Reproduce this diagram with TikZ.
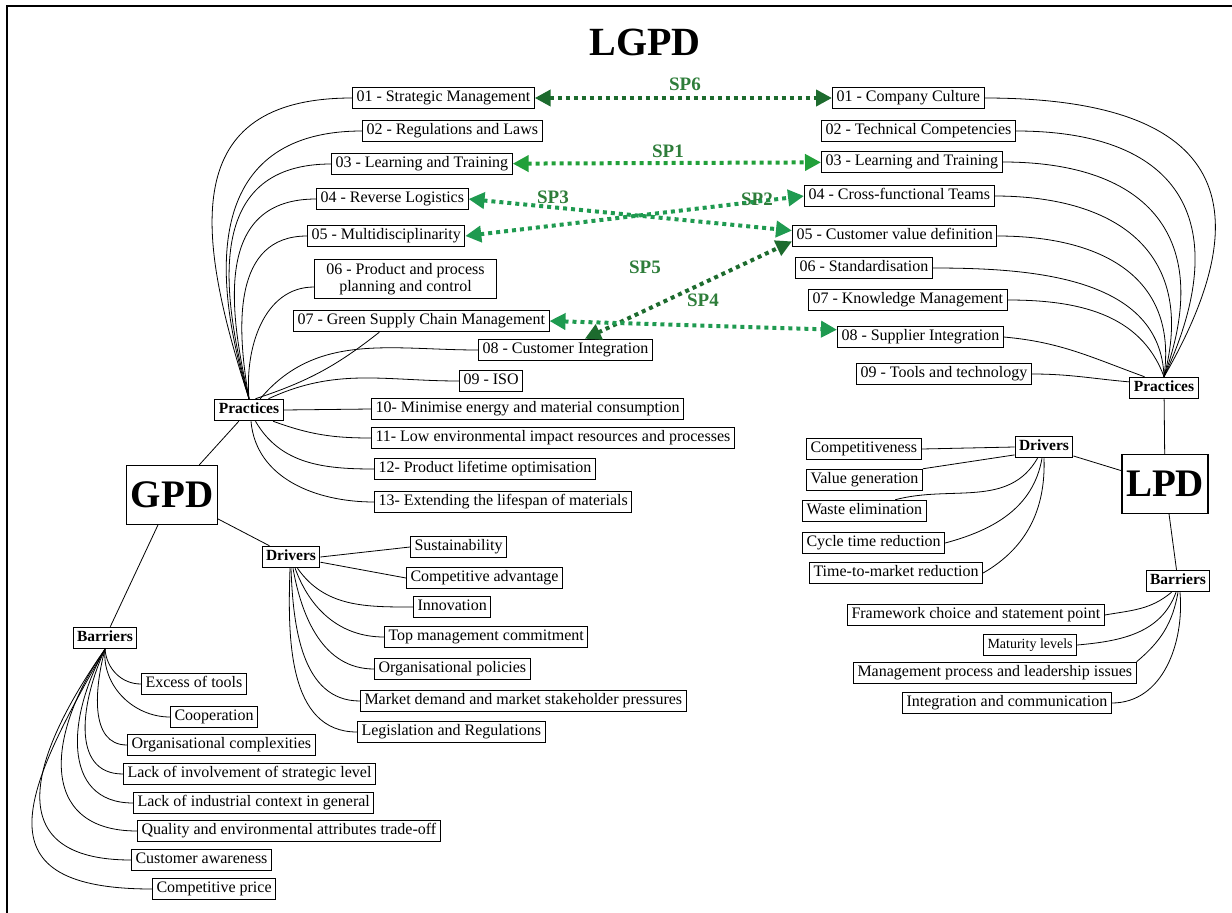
\documentclass[tikz,border=0pt]{standalone}
\usepackage{fontspec}
\setmainfont{Liberation Serif}
\usetikzlibrary{arrows.meta}
\definecolor{spdark}{HTML}{1D6B2E}
\definecolor{spmid}{HTML}{1F9A50}
\definecolor{splight}{HTML}{22A03A}
\definecolor{splabel}{HTML}{2E7D3A}

\begin{document}
\begin{tikzpicture}[x=1pt, y=-1pt,
    box/.style={draw, line width=1pt, font=\fontsize{16}{17.5}\selectfont, inner xsep=4pt, inner ysep=3.5pt, text height=11pt, text depth=3.5pt},
    item/.style={box, anchor=west},
    group/.style={box, font=\fontsize{15.5}{17}\selectfont\bfseries},
    root/.style={draw, line width=1.2pt, font=\fontsize{39}{42}\selectfont\bfseries, inner xsep=4pt, minimum height=59pt},
    link/.style={line width=0.8pt},
    sp/.style={line width=4pt, dash pattern=on 4pt off 4pt, {Triangle[length=16pt,width=16pt]}-{Triangle[length=16pt,width=16pt]}},
    splab/.style={text=splabel, font=\fontsize{19}{21}\selectfont\bfseries}
  ]
    \useasboundingbox (0,0) rectangle (1232,913);
    \draw[line width=1.2pt] (7,913) -- (7,6) -- (1232,6);

    \node[font=\fontsize{40}{44}\selectfont\bfseries] (title) at (645,42) {LGPD};

    % green product development
    \node[root] (gpd) at (172,495) {GPD};
    \node[group] (gprac) at (249,410) {Practices};
    \node[group] (gdrv) at (291,557) {Drivers};
    \node[group] (gbar) at (105,638) {Barriers};
    \draw[link] (gpd) -- (gprac);
    \draw[link] (gpd) -- (gdrv);
    \draw[link] (gpd) -- (gbar);

    \foreach \n/\x/\y/\t in {1/352/98/{01 - Strategic Management}, 2/362/131/{02 - Regulations and Laws},
        3/331/164/{03 - Learning and Training}, 4/316/199/{04 - Reverse Logistics},
        5/307/236/{05 - Multidisciplinarity}, 7/293/321/{07 - Green Supply Chain Management},
        8/478/350/{08 - Customer Integration}, 9/459/381/{09 - ISO},
        10/371/409/{10- Minimise energy and material consumption},
        11/371/438/{11- Low environmental impact resources and processes},
        12/374/469/{12- Product lifetime optimisation}, 13/374/502/{13- Extending the lifespan of materials}}
      \node[item] (gp\n) at (\x,\y) {\t};
    \node[item, align=center, text height=, text depth=, minimum width=182pt] (gp6) at (314,279) {06 - Product and process\\planning and control};

    \foreach \n/\o/\l in {1/108/1.4, 2/107/1.3, 3/105/1.25, 4/103/1.2, 5/100/1.1}
      \draw[link] (gprac.north) to[out=\o, in=180, looseness=\l] (gp\n.west);
    \draw[link] (gprac.north) to[out=95, in=180] (gp6.185);
    \draw[link] (gprac.60) to[bend right=10] (gp7.195);
    \draw[link] (gprac.45) to[out=50, in=180] (gp8.west);
    \draw[link] (gprac.30) to[out=25, in=180] (gp9.west);
    \draw[link] (gprac.east) -- (gp10.west);
    \draw[link] (gprac.-25) to[out=-20, in=180] (gp11.west);
    \draw[link] (gprac.-60) to[out=-60, in=180] (gp12.west);
    \draw[link] (gprac.-80) to[out=-85, in=180] (gp13.west);

    \foreach \n/\x/\y/\t in {1/410/547/Sustainability, 2/406/578/{Competitive advantage}, 3/413/607/Innovation,
        4/384/637/{Top management commitment}, 5/374/669/{Organisational policies},
        6/360/701/{Market demand and market stakeholder pressures}, 7/357/732/{Legislation and Regulations}}
      \node[item] (gd\n) at (\x,\y) {\t};
    \draw[link] (gdrv.east) -- (gd1.west);
    \draw[link] (gdrv.-10) -- (gd2.west);
    \foreach \n/\a/\o in {3/-60/-55, 4/-70/-70, 5/-80/-80, 6/-90/-88, 7/-95/-92}
      \draw[link] (gdrv.\a) to[out=\o, in=180] (gd\n.west);

    \foreach \n/\x/\y/\t in {1/141/684/{Excess of tools}, 2/170/717/Cooperation, 3/127/745/{Organisational complexities},
        4/123/774/{Lack of involvement of strategic level}, 5/133/803/{Lack of industrial context in general},
        6/137/831/{Quality and environmental attributes trade-off}, 7/131/860/{Customer awareness},
        8/152/889/{Competitive price}}
      \node[item] (gb\n) at (\x,\y) {\t};
    \foreach \n/\o/\l in {1/-85/1, 2/-95/1, 3/-105/1, 4/245/1.1, 5/240/1.2, 6/235/1.4, 7/235/1.6, 8/240/1.8}
      \draw[link] (gbar.south) to[out=\o, in=180, looseness=\l] (gb\n.west);

    % lean product development
    \node[root] (lpd) at (1165,484) {LPD};
    \node[group] (lprac) at (1164,388) {Practices};
    \node[group] (ldrv) at (1044,447) {Drivers};
    \node[group] (lbar) at (1178,581) {Barriers};
    \draw[link] (lpd) -- (lprac);
    \draw[link] (lpd) -- (ldrv);
    \draw[link] (lpd) -- (lbar);

    \foreach \n/\x/\y/\t in {1/832/98/{01 - Company Culture}, 2/821/131/{02 - Technical Competencies},
        3/821/162/{03 - Learning and Training}, 4/804/196/{04 - Cross-functional Teams},
        5/792/236/{05 - Customer value definition}, 6/795/268/{06 - Standardisation},
        7/808/300/{07 - Knowledge Management}, 8/837/337/{08 - Supplier Integration},
        9/856/374/{09 - Tools and technology}}
      \node[item] (lp\n) at (\x,\y) {\t};
    \foreach \n/\i/\l in {1/60/1.7, 2/65/1.5, 3/70/1.4, 4/75/1.3, 5/82/1.2, 6/92/1, 7/110/1}
      \draw[link] (lp\n.east) to[out=0, in=\i, looseness=\l] (lprac.north);
    \draw[link] (lp8.east) to[out=-5, in=160] (lprac.150);
    \draw[link] (lp9.east) to[out=0, in=175] (lprac.170);

    \foreach \n/\x/\y/\t in {1/806/449/Competitiveness, 2/806/480/{Value generation}, 3/802/511/{Waste elimination},
        4/802/543/{Cycle time reduction}, 5/809/573/{Time-to-market reduction}}
      \node[item] (ld\n) at (\x,\y) {\t};
    \draw[link] (ldrv.west) -- (ld1.east);
    \draw[link] (ldrv.195) -- (ld2.north east);
    \draw[link] (ldrv.-120) to[out=-120, in=15] (ld3.20);
    \draw[link] (ldrv.-100) to[out=-100, in=15] (ld4.east);
    \draw[link] (ldrv.-90) to[out=-88, in=30] (ld5.east);

    \node[item] (lb1) at (847,615) {Framework choice and statement point};
    \node[item, font=\fontsize{14}{15}\selectfont] (lb2) at (983,645) {Maturity levels};
    \node[item] (lb3) at (853,673) {Management process and leadership issues};
    \node[item] (lb4) at (902,703) {Integration and communication};
    \draw[link] (lbar.-120) to[out=-140, in=10] (lb1.east);
    \draw[link] (lbar.-100) to[out=-110, in=5] (lb2.east);
    \draw[link] (lbar.-90) to[out=-100, in=40] (lb3.north east);
    \draw[link] (lbar.-80) to[out=-85, in=0] (lb4.east);

    % shared practices
    \draw[sp, spdark] (gp1) -- (lp1);
    \node[splab] (sp6) at (685,84) {SP6};
    \draw[sp, splight] (gp3) -- (lp3);
    \node[splab] (sp1) at (668,151) {SP1};
    \draw[sp, spmid] (gp4.east) -- (lp5.177);
    \node[splab] (sp3) at (553,197) {SP3};
    \draw[sp, spmid] (gp5.east) -- (lp4.west);
    \node[splab] (sp2) at (757,199) {SP2};
    \draw[sp, spdark] (gp8.30) -- (lp5.183);
    \node[splab] (sp5) at (645,267) {SP5};
    \draw[sp, spmid] (gp7.east) -- (lp8.175);
    \node[splab] (sp4) at (703,300) {SP4};
  \end{tikzpicture}
\end{document}
